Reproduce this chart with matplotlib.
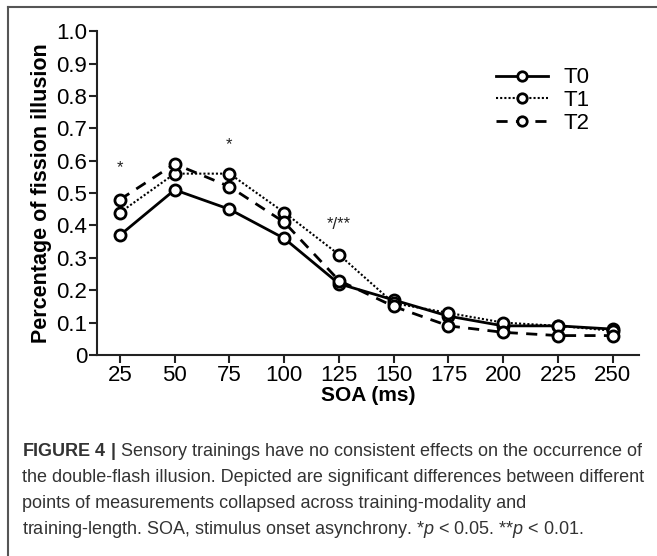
import matplotlib
matplotlib.use("Agg")
import matplotlib.pyplot as plt
from matplotlib.lines import Line2D

soa = [25, 50, 75, 100, 125, 150, 175, 200, 225, 250]
t0 = [0.37, 0.51, 0.45, 0.36, 0.22, 0.17, 0.12, 0.09, 0.09, 0.08]
t1 = [0.44, 0.56, 0.56, 0.44, 0.31, 0.16, 0.13, 0.10, 0.09, 0.075]
t2 = [0.48, 0.59, 0.52, 0.41, 0.23, 0.15, 0.09, 0.07, 0.06, 0.06]
yticks = [0, 0.1, 0.2, 0.3, 0.4, 0.5, 0.6, 0.7, 0.8, 0.9, 1.0]
ytick_labels = ["0", "0.1", "0.2", "0.3", "0.4", "0.5", "0.6", "0.7", "0.8", "0.9", "1.0"]
sig_labels = ["*", "*", "*/**"]
sig_x = [25, 75, 125]
sig_y = [0.555, 0.625, 0.38]

font = "Liberation Sans"
plt.rcParams["font.family"] = [font, "DejaVu Sans"]
plt.rcParams["mathtext.fontset"] = "custom"
plt.rcParams["mathtext.rm"] = font
plt.rcParams["mathtext.it"] = font + ":italic"
plt.rcParams["mathtext.bf"] = font + ":bold"

fig = plt.figure(figsize=(6.57, 5.56), dpi=100)
ax = fig.add_axes([0.1476, 0.3615, 0.825, 0.5825])

dark = "#222222"
ax.plot(soa, t0, color="black", lw=2.0, ls="-", marker="o", ms=8,
        mfc="white", mec="black", mew=2.0, label="T0", zorder=3)
ax.plot(soa, t1, color="black", lw=1.5, ls=(0, (1, 1)), marker="o", ms=8,
        mfc="white", mec="black", mew=2.0, label="T1", zorder=3)
ax.plot(soa, t2, color="black", lw=2.0, ls=(0, (4, 3)), marker="o", ms=8,
        mfc="white", mec="black", mew=2.0, label="T2", zorder=3)

for lab, x, y in zip(sig_labels, sig_x, sig_y):
    ax.text(x, y, lab, ha="center", va="bottom", fontsize=12, color=dark)

ax.set_xlim(14.5, 262)
ax.set_ylim(0, 1.0)
ax.set_xticks(soa)
ax.set_yticks(yticks)
ax.set_yticklabels(ytick_labels)
ax.tick_params(labelsize=16, length=6, width=1.5, color=dark, labelcolor="black", pad=1)
for s in ["top", "right"]:
    ax.spines[s].set_visible(False)
for s in ["left", "bottom"]:
    ax.spines[s].set_linewidth(1.5)
    ax.spines[s].set_color(dark)
ax.set_xlabel("SOA (ms)", fontsize=15, fontweight="bold", labelpad=0)
ax.set_ylabel("Percentage of fission illusion", fontsize=15.5, fontweight="bold", labelpad=3)

leg = ax.legend(loc="upper left", bbox_to_anchor=(0.7, 0.95), frameon=False,
                fontsize=16, handlelength=2.3, handletextpad=0.7, labelspacing=0.08,
                markerscale=0.85)

# outer frame (left and top edges)
fig.add_artist(Line2D([8 / 657, 8 / 657], [0, 1 - 7 / 556], transform=fig.transFigure,
                      color="#555555", lw=1.5))
fig.add_artist(Line2D([8 / 657, 1], [1 - 7 / 556, 1 - 7 / 556], transform=fig.transFigure,
                      color="#555555", lw=1.5))

cap = [
    r"$\mathbf{FIGURE\ 4\ |}$ Sensory trainings have no consistent effects on the occurrence of",
    "the double-flash illusion. Depicted are significant differences between different",
    "points of measurements collapsed across training-modality and",
    r"training-length. SOA, stimulus onset asynchrony. *$\mathit{p}$ < 0.05. **$\mathit{p}$ < 0.01.",
]
cap_y = [452, 478, 503, 529]
for line, y in zip(cap, cap_y):
    fig.text(22 / 657, 1 - y / 556, line, fontsize=13, color="#333333",
             ha="left", va="center")

fig.savefig("out.png", dpi=100)
